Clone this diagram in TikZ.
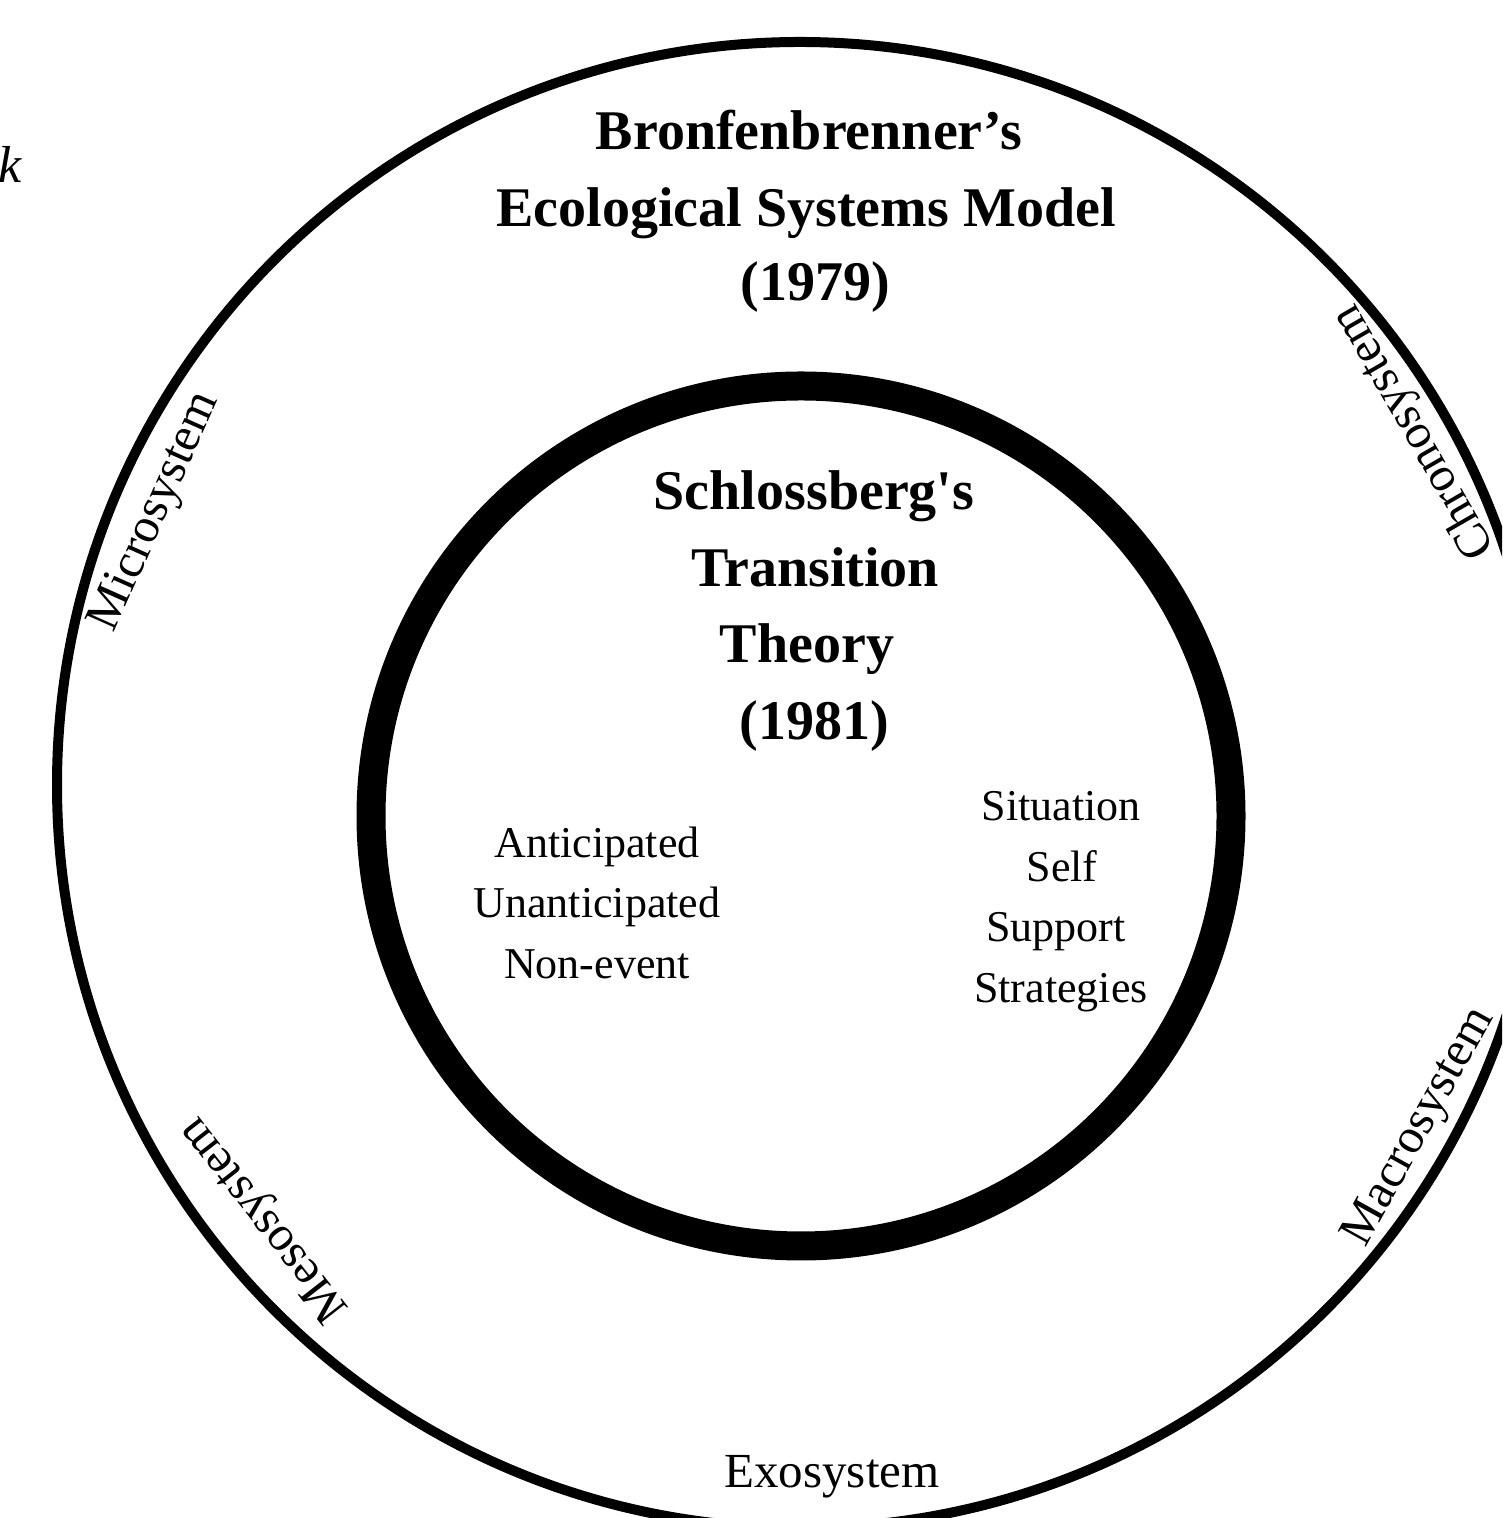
\documentclass[tikz,border=0pt]{standalone}
\usepackage{fontspec}
\setmainfont{Liberation Serif}
\newcommand\lblfont{\fontsize{24.5}{29}\selectfont}
\tikzset{
  titleline/.style={font=\fontsize{28}{34}\selectfont\bfseries, inner sep=0pt, anchor=base},
  itemline/.style={font=\fontsize{22}{26}\selectfont, inner sep=0pt, anchor=base},
  syslabel/.style={font=\lblfont, inner sep=0pt, anchor=base},
  outerring/.style={draw=black, line width=5pt},
  innerring/.style={draw=black, line width=14.5pt}
}
\begin{document}
\begin{tikzpicture}[x=0.5pt,y=0.5pt]
\useasboundingbox (0,0) rectangle (1502,1518);
\clip (0,0) rectangle (1502,1518);
\coordinate (O) at (800,733);
\coordinate (I) at (801,702);

% rings
\draw[outerring] (O) circle[radius=371.5pt];
\draw[innerring] (I) circle[radius=215pt];

% outer title
\node[titleline] (b1) at (809,1368) {Bronfenbrenner’s};
\node[titleline] (b2) at (806,1291) {Ecological Systems Model};
\node[titleline] (b3) at (815,1217) {(1979)};

% inner title
\node[titleline] (s1) at (814,1008) {Schlossberg\textquotesingle s};
\node[titleline] (s2) at (815,931) {Transition};
\node[titleline] (s3) at (807,855) {Theory};
\node[titleline] (s4) at (814,778) {(1981)};

% left list
\node[itemline] (l1) at (597,660) {Anticipated};
\node[itemline] (l2) at (597,600) {Unanticipated};
\node[itemline] (l3) at (597,539) {Non-event};

% right list
\node[itemline] (r1) at (1061,697) {Situation};
\node[itemline] (r2) at (1062,636) {Self};
\node[itemline] (r3) at (1056,576) {Support};
\node[itemline] (r4) at (1061,515) {Strategies};

% system labels
\node[syslabel, rotate=66] (micro) at (166,1001.5) {Microsystem};
\node[syslabel, rotate=128] (meso) at (273.6,306.4) {Mesosystem};
\node[syslabel, rotate=120] (chrono) at (1424.9,1092.5) {Chronosystem};
\node[syslabel, rotate=61] (macro) at (1429.5,385.2) {Macrosystem};
\node[syslabel] (exo) at (832,31) {Exosystem};

% fragment at left edge
\node[font=\fontsize{26}{30}\selectfont\itshape, inner sep=0pt, anchor=base east] (kfrag) at (22,1335) {k};
\end{tikzpicture}
\end{document}
